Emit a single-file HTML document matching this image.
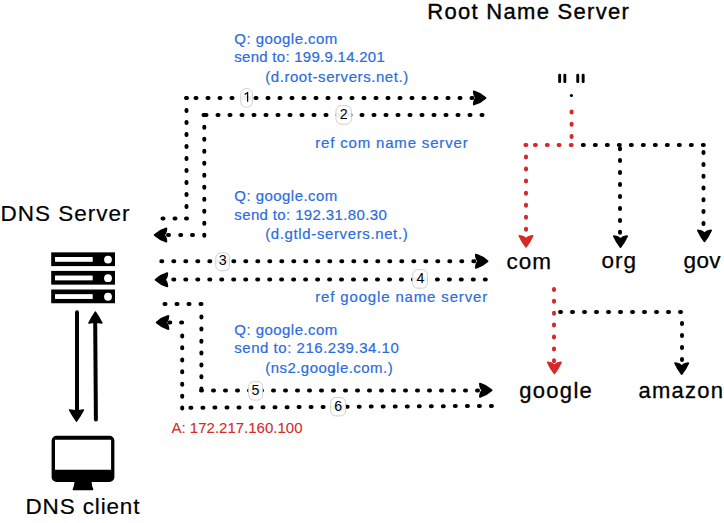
<!DOCTYPE html>
<html><head><meta charset="utf-8"><style>
html,body{margin:0;padding:0;background:#fff;}
svg{display:block;}
text{font-family:"Liberation Sans",sans-serif;}
.n{font-size:14.2px;text-anchor:middle;fill:#000;}
</style></head><body>
<svg width="724" height="523" viewBox="0 0 724 523">
<rect width="724" height="523" fill="#fff"/>
<path d="M162.5 218.6h1M174.5 218.6h1M186.0 218.6h1M186.5 206.1v1M186.5 194.1v1M186.5 182.1v1M186.5 170.1v1M186.5 158.1v1M186.5 146.1v1M186.5 134.1v1M186.5 122.1v1M186.5 110.1v1M186.0 98.0h1M195.5 98.0h1M207.5 98.0h1M219.5 98.0h1M231.5 98.0h1M243.5 98.0h1M255.5 98.0h1M267.5 98.0h1M279.5 98.0h1M291.5 98.0h1M303.5 98.0h1M315.5 98.0h1M327.5 98.0h1M339.5 98.0h1M351.5 98.0h1M363.5 98.0h1M375.5 98.0h1M387.5 98.0h1M399.5 98.0h1M411.5 98.0h1M423.5 98.0h1M435.5 98.0h1M447.5 98.0h1M459.5 98.0h1M471.5 98.0h1M481.5 115.0h1M469.5 115.0h1M457.5 115.0h1M445.5 115.0h1M433.5 115.0h1M421.5 115.0h1M409.5 115.0h1M397.5 115.0h1M385.5 115.0h1M373.5 115.0h1M361.5 115.0h1M349.5 115.0h1M337.5 115.0h1M325.5 115.0h1M313.5 115.0h1M301.5 115.0h1M289.5 115.0h1M277.5 115.0h1M265.5 115.0h1M253.5 115.0h1M241.5 115.0h1M229.5 115.0h1M217.5 115.0h1M205.5 115.0h1M204.3 126.8v1M204.3 138.8v1M204.3 150.8v1M204.3 162.8v1M204.3 174.8v1M204.3 186.8v1M204.3 198.8v1M204.3 210.8v1M204.3 222.8v1M204.3 234.8v1M203.5 115.0h1M192.0 235.0h1M180.2 235.0h1M168.0 235.0h1M161.3 261.3h1M173.3 261.3h1M185.3 261.3h1M197.3 261.3h1M209.3 261.3h1M221.3 261.3h1M233.3 261.3h1M245.3 261.3h1M257.3 261.3h1M269.3 261.3h1M281.3 261.3h1M293.3 261.3h1M305.3 261.3h1M317.3 261.3h1M329.3 261.3h1M341.3 261.3h1M353.3 261.3h1M365.3 261.3h1M377.3 261.3h1M389.3 261.3h1M401.3 261.3h1M413.3 261.3h1M425.3 261.3h1M437.3 261.3h1M449.3 261.3h1M461.3 261.3h1M473.3 261.3h1M484.8 279.5h1M472.8 279.5h1M460.8 279.5h1M448.9 279.5h1M436.9 279.5h1M424.9 279.5h1M412.9 279.5h1M400.9 279.5h1M389.0 279.5h1M377.0 279.5h1M365.0 279.5h1M353.0 279.5h1M341.0 279.5h1M329.1 279.5h1M317.1 279.5h1M305.1 279.5h1M293.1 279.5h1M281.1 279.5h1M269.2 279.5h1M257.2 279.5h1M245.2 279.5h1M233.2 279.5h1M221.2 279.5h1M209.3 279.5h1M197.3 279.5h1M185.3 279.5h1M173.3 279.5h1M164.5 304.0h1M176.5 304.0h1M188.5 304.0h1M200.5 304.0h1M201.4 316.5v1M201.4 328.5v1M201.4 340.7v1M201.4 352.6v1M201.4 364.5v1M201.4 376.2v1M201.4 388.5v1M201.0 390.5h1M213.0 390.5h1M225.0 390.5h1M237.0 390.5h1M249.0 390.5h1M261.0 390.5h1M273.0 390.5h1M285.0 390.5h1M297.0 390.5h1M309.0 390.5h1M321.0 390.5h1M333.0 390.5h1M345.0 390.5h1M357.0 390.5h1M369.0 390.5h1M381.0 390.5h1M393.0 390.5h1M405.0 390.5h1M417.0 390.5h1M429.0 390.5h1M441.0 390.5h1M453.0 390.5h1M465.0 390.5h1M477.0 390.5h1M490.9 405.9h1M478.9 406.0h1M466.9 406.0h1M454.8 406.1h1M442.8 406.2h1M430.8 406.3h1M418.8 406.3h1M406.8 406.4h1M394.7 406.5h1M382.7 406.6h1M370.7 406.6h1M358.7 406.7h1M346.7 406.8h1M334.6 406.9h1M322.6 406.9h1M310.6 407.0h1M298.6 407.1h1M286.6 407.2h1M274.5 407.2h1M262.5 407.3h1M250.5 407.4h1M238.5 407.5h1M226.5 407.5h1M214.4 407.6h1M202.4 407.7h1M190.4 407.7h1M182.2 407.5v1M182.2 395.7v1M182.2 383.7v1M182.2 371.3v1M182.2 359.6v1M182.2 347.2v1M182.2 335.5v1M181.1 322.6h1M169.3 322.6h1M582.8 145.0h1M594.8 145.0h1M606.8 145.0h1M618.8 145.0h1M630.8 145.0h1M642.8 145.0h1M654.8 145.0h1M666.8 145.0h1M678.8 145.0h1M690.8 145.0h1M702.8 145.0h1M620.0 148.2v1M620.0 160.1v1M620.0 172.1v1M620.0 184.0v1M620.0 196.0v1M620.0 207.9v1M620.0 219.9v1M620.0 231.8v1M703.5 152.1v1M703.5 163.9v1M703.5 175.7v1M703.5 187.5v1M703.5 199.3v1M703.5 211.1v1M703.5 222.9v1M560.0 311.9h1M572.0 311.9h1M584.0 311.9h1M596.0 311.9h1M608.0 311.9h1M620.0 311.9h1M632.0 311.9h1M644.0 311.9h1M656.0 311.9h1M668.0 311.9h1M680.0 311.9h1M682.0 323.0v1M682.0 335.0v1M682.0 347.0v1M682.0 359.0v1" stroke="#000" stroke-width="4" stroke-linecap="round" fill="none"/>
<path d="M571.6 111.5v1M571.6 123.8v1M571.6 136.0v1M570.7 145.0h1M558.6 145.0h1M546.8 145.0h1M534.9 145.0h1M525.4 145.0h1M526.0 156.5v1M526.0 168.6v1M526.0 180.6v1M526.0 192.7v1M526.0 204.7v1M526.0 216.8v1M526.0 228.8v1M554.0 288.9v1M554.0 300.8v1M554.0 312.7v1M554.0 324.6v1M554.0 336.5v1M554.0 348.4v1M554.0 360.3v1" stroke="#d42a2a" stroke-width="4" stroke-linecap="round" fill="none"/>
<path d="M485.40 97.90Q480.15 93.15 473.90 91.40Q474.20 96.28 476.50 97.90Q474.20 99.53 473.90 104.40Q480.15 102.65 485.40 97.90Z" fill="#000" stroke="#000" stroke-width="2" stroke-linejoin="round"/><path d="M154.80 235.00Q160.05 230.25 166.30 228.50Q166.00 233.38 163.70 235.00Q166.00 236.62 166.30 241.50Q160.05 239.75 154.80 235.00Z" fill="#000" stroke="#000" stroke-width="2" stroke-linejoin="round"/><path d="M487.40 261.20Q482.15 256.45 475.90 254.70Q476.20 259.57 478.50 261.20Q476.20 262.82 475.90 267.70Q482.15 265.95 487.40 261.20Z" fill="#000" stroke="#000" stroke-width="2" stroke-linejoin="round"/><path d="M155.70 279.80Q160.95 275.05 167.20 273.30Q166.90 278.18 164.60 279.80Q166.90 281.43 167.20 286.30Q160.95 284.55 155.70 279.80Z" fill="#000" stroke="#000" stroke-width="2" stroke-linejoin="round"/><path d="M491.50 390.30Q486.25 385.55 480.00 383.80Q480.30 388.68 482.60 390.30Q480.30 391.93 480.00 396.80Q486.25 395.05 491.50 390.30Z" fill="#000" stroke="#000" stroke-width="2" stroke-linejoin="round"/><path d="M156.80 322.50Q162.05 317.75 168.30 316.00Q168.00 320.88 165.70 322.50Q168.00 324.12 168.30 329.00Q162.05 327.25 156.80 322.50Z" fill="#000" stroke="#000" stroke-width="2" stroke-linejoin="round"/><path d="M526.00 246.70Q522.15 241.80 519.50 235.90Q524.38 236.20 526.00 239.50Q527.62 236.20 532.50 235.90Q529.85 241.80 526.00 246.70Z" fill="#d42a2a" stroke="#d42a2a" stroke-width="2" stroke-linejoin="round"/><path d="M620.50 247.00Q616.65 242.10 614.00 236.20Q618.88 236.50 620.50 239.80Q622.12 236.50 627.00 236.20Q624.35 242.10 620.50 247.00Z" fill="#000" stroke="#000" stroke-width="2" stroke-linejoin="round"/><path d="M704.50 241.20Q700.65 236.30 698.00 230.40Q702.88 230.70 704.50 234.00Q706.12 230.70 711.00 230.40Q708.35 236.30 704.50 241.20Z" fill="#000" stroke="#000" stroke-width="2" stroke-linejoin="round"/><path d="M554.40 373.20Q550.55 368.30 547.90 362.40Q552.77 362.70 554.40 366.00Q556.02 362.70 560.90 362.40Q558.25 368.30 554.40 373.20Z" fill="#d42a2a" stroke="#d42a2a" stroke-width="2" stroke-linejoin="round"/><path d="M681.70 374.00Q677.85 369.10 675.20 363.20Q680.08 363.50 681.70 366.80Q683.33 363.50 688.20 363.20Q685.55 369.10 681.70 374.00Z" fill="#000" stroke="#000" stroke-width="2" stroke-linejoin="round"/>
<rect x="240.8" y="88.7" width="11.6" height="18.4" rx="5" fill="#fff" stroke="#cfcfcf" stroke-width="1"/><rect x="241.8" y="96.0" width="9.6" height="4" fill="#f0f0f0"/><path d="M244.7 94.6L247.6 92.6V101.8" stroke="#000" stroke-width="1.25" fill="none"/><rect x="336.0" y="105.7" width="15.3" height="18.5" rx="5" fill="#fff" stroke="#cfcfcf" stroke-width="1"/><rect x="337.0" y="113.0" width="13.3" height="4" fill="#f0f0f0"/><text x="343.6" y="118.8" class="n">2</text><rect x="215.8" y="252.8" width="13.7" height="17.9" rx="5" fill="#fff" stroke="#cfcfcf" stroke-width="1"/><rect x="216.8" y="259.3" width="11.7" height="4" fill="#f0f0f0"/><text x="222.7" y="265.3" class="n">3</text><rect x="412.7" y="269.7" width="14.7" height="18.5" rx="5" fill="#fff" stroke="#cfcfcf" stroke-width="1"/><rect x="413.7" y="277.5" width="12.7" height="4" fill="#f0f0f0"/><text x="420.4" y="282.8" class="n">4</text><rect x="248.7" y="381.6" width="13.9" height="18.5" rx="5" fill="#fff" stroke="#cfcfcf" stroke-width="1"/><rect x="249.7" y="388.5" width="11.9" height="4" fill="#f0f0f0"/><text x="255.5" y="394.7" class="n">5</text><rect x="330.7" y="397.5" width="14.8" height="18.4" rx="5" fill="#fff" stroke="#cfcfcf" stroke-width="1"/><rect x="331.7" y="405.4" width="12.8" height="4" fill="#f0f0f0"/><text x="338.1" y="410.5" class="n">6</text>
<rect x="558.2" y="73.7" width="2.9" height="9.4" rx="1.3" fill="#000"/><rect x="563.4" y="73.7" width="2.9" height="9.4" rx="1.3" fill="#000"/><rect x="576.3" y="73.7" width="2.9" height="9.4" rx="1.3" fill="#000"/><rect x="581.7" y="73.7" width="2.9" height="9.4" rx="1.3" fill="#000"/><circle cx="571.4" cy="95.5" r="1.6" fill="#000"/><rect x="51.2" y="252.35" width="63.8" height="13.75" fill="#000"/><rect x="55" y="257.00" width="37.7" height="4.8" fill="#fff"/><circle cx="108" cy="259.60" r="3.9" fill="#fff"/><rect x="51.2" y="270.9" width="63.8" height="13.75" fill="#000"/><rect x="55" y="275.55" width="37.7" height="4.8" fill="#fff"/><circle cx="108" cy="278.15" r="3.9" fill="#fff"/><rect x="51.2" y="289.5" width="63.8" height="13.75" fill="#000"/><rect x="55" y="294.15" width="37.7" height="4.8" fill="#fff"/><circle cx="108" cy="296.75" r="3.9" fill="#fff"/><path d="M77 312.2V410" stroke="#000" stroke-width="4" stroke-linecap="round"/><path d="M95.9 419.6L95.2 322" stroke="#000" stroke-width="4" stroke-linecap="round"/><path d="M76.5 421.1 Q72.5 415.5 69.6 410 Q76.5 411.6 83.4 410 Q80.5 415.5 76.5 421.1Z" fill="#000" stroke="#000" stroke-width="1.6" stroke-linejoin="round"/><path d="M95.4 312.1 Q91.6 317.5 89 323.0 Q95.4 321.4 101.8 323.0 Q99.2 317.5 95.4 312.1Z" fill="#000" stroke="#000" stroke-width="1.6" stroke-linejoin="round"/><path d="M56.6 435.8H109.4A5 5 0 0 1 114.4 440.8V477A5 5 0 0 1 109.4 482H56.6A5 5 0 0 1 51.6 477V440.8A5 5 0 0 1 56.6 435.8ZM55 439.8V469.7H111.1V439.8Z" fill="#000" fill-rule="evenodd"/><path d="M74.6 481H91.4Q91.9 486.5 93.2 488.7Q93.8 490.2 92.2 490.2H73.8Q72.2 490.2 72.8 488.7Q74.1 486.5 74.6 481Z" fill="#000"/>
<text x="427.3" y="19" font-size="22" fill="#000" stroke="#000" stroke-width="0.35" textLength="201.5" lengthAdjust="spacing">Root Name Server</text><text x="234.3" y="43.8" font-size="15" fill="#2b6ce0" stroke="#2b6ce0" stroke-width="0.2" textLength="103" lengthAdjust="spacing">Q: google.com</text><text x="234.3" y="62.3" font-size="15" fill="#2b6ce0" stroke="#2b6ce0" stroke-width="0.2" textLength="150.5" lengthAdjust="spacing">send to: 199.9.14.201</text><text x="265.2" y="81.6" font-size="15" fill="#2b6ce0" stroke="#2b6ce0" stroke-width="0.2" textLength="143" lengthAdjust="spacing">(d.root-servers.net.)</text><text x="315.2" y="147.7" font-size="15" fill="#2b6ce0" stroke="#2b6ce0" stroke-width="0.2" textLength="152.5" lengthAdjust="spacing">ref com name server</text><text x="234.3" y="200.7" font-size="15" fill="#2b6ce0" stroke="#2b6ce0" stroke-width="0.2" textLength="103" lengthAdjust="spacing">Q: google.com</text><text x="234.3" y="219.5" font-size="15" fill="#2b6ce0" stroke="#2b6ce0" stroke-width="0.2" textLength="152.5" lengthAdjust="spacing">send to: 192.31.80.30</text><text x="265.2" y="238.8" font-size="15" fill="#2b6ce0" stroke="#2b6ce0" stroke-width="0.2" textLength="142.5" lengthAdjust="spacing">(d.gtld-servers.net.)</text><text x="315.2" y="301.5" font-size="15" fill="#2b6ce0" stroke="#2b6ce0" stroke-width="0.2" textLength="172" lengthAdjust="spacing">ref google name server</text><text x="234.3" y="334.8" font-size="15" fill="#2b6ce0" stroke="#2b6ce0" stroke-width="0.2" textLength="103" lengthAdjust="spacing">Q: google.com</text><text x="234.3" y="353.3" font-size="15" fill="#2b6ce0" stroke="#2b6ce0" stroke-width="0.2" textLength="164.5" lengthAdjust="spacing">send to: 216.239.34.10</text><text x="265.2" y="372.7" font-size="15" fill="#2b6ce0" stroke="#2b6ce0" stroke-width="0.2" textLength="127.5" lengthAdjust="spacing">(ns2.google.com.)</text><text x="171.5" y="433.4" font-size="15" fill="#d42a2a" stroke="#d42a2a" stroke-width="0.1" textLength="131" lengthAdjust="spacing">A: 172.217.160.100</text><text x="0.5" y="221.1" font-size="22.5" fill="#000" stroke="#000" stroke-width="0.2" textLength="129" lengthAdjust="spacing">DNS Server</text><text x="25.5" y="513.7" font-size="22.5" fill="#000" stroke="#000" stroke-width="0.2" textLength="114" lengthAdjust="spacing">DNS client</text><text x="506.5" y="268.9" font-size="22.5" fill="#000" stroke="#000" stroke-width="0.25" textLength="44.5" lengthAdjust="spacing">com</text><text x="601.5" y="268.2" font-size="22.5" fill="#000" stroke="#000" stroke-width="0.25" textLength="34.5" lengthAdjust="spacing">org</text><text x="683.5" y="268.2" font-size="22.5" fill="#000" stroke="#000" stroke-width="0.25" textLength="37" lengthAdjust="spacing">gov</text><text x="519.3" y="397.6" font-size="22" fill="#000" stroke="#000" stroke-width="0.3" textLength="72.5" lengthAdjust="spacing">google</text><text x="638.5" y="397.6" font-size="22" fill="#000" stroke="#000" stroke-width="0.3" textLength="84.5" lengthAdjust="spacing">amazon</text>
</svg>
</body></html>
